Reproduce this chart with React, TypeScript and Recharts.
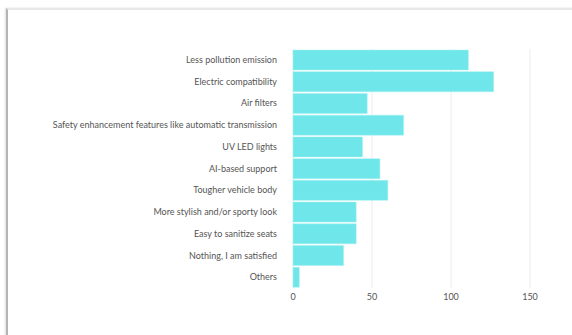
import React from "react";
import { BarChart, Bar, XAxis, YAxis, CartesianGrid } from "recharts";

const features = [
  "Less pollution emission",
  "Electric compatibility",
  "Air filters",
  "Safety enhancement features like automatic transmission",
  "UV LED lights",
  "AI-based support",
  "Tougher vehicle body",
  "More stylish and/or sporty look",
  "Easy to sanitize seats",
  "Nothing, I am satisfied",
  "Others",
];

const responses = [111, 127, 47, 70, 44, 55, 60, 40, 40, 32, 4];

const xTicks = [0, 50, 100, 150];

const data = features.map((name, i) => ({ name, value: responses[i] }));

const tickStyle = { fontFamily: "Lato", fontSize: 9, fill: "#555" };

// plain text tick so the long label stays on one line
const CategoryTick = (props: any) => {
  const { x, y, payload } = props;
  return (
    <text x={x} y={y} dy="0.35em" textAnchor="end" {...tickStyle}>
      {payload.value}
    </text>
  );
};

const App = () => {
  return (
    <div style={{ position: "absolute", left: 0, top: 0, width: 572, height: 335, background: "#fff", overflow: "hidden" }}>
      {/* card edge from the screenshot */}
      <div
        style={{
          position: "absolute",
          left: 6,
          top: 8,
          width: 600,
          height: 400,
          borderLeft: "2px solid #b4b4b4",
          borderTop: "2px solid #e8e8e8",
          boxShadow: "-1px 0 2px rgba(0,0,0,0.12)",
        }}
      />
      <div style={{ position: "absolute", left: 0, top: 0 }}>
        <BarChart
          width={572}
          height={335}
          data={data}
          layout="vertical"
          margin={{ top: 49, right: 42, bottom: 27, left: 0 }}
          barCategoryGap={1}
        >
          <CartesianGrid horizontal={false} stroke="#ececec" />
          <XAxis
            type="number"
            domain={[0, 150]}
            ticks={xTicks}
            axisLine={false}
            tickLine={false}
            tickSize={0}
            tickMargin={6}
            tick={tickStyle}
            height={20}
          />
          <YAxis
            type="category"
            dataKey="name"
            width={293}
            axisLine={false}
            tickLine={false}
            tickSize={0}
            tickMargin={16}
            tick={<CategoryTick />}
            interval={0}
          />
          <Bar dataKey="value" fill="#6ee6ea" stroke="#a8f0f2" strokeWidth={0.5} isAnimationActive={false} />
        </BarChart>
      </div>
    </div>
  );
};

export default App;
